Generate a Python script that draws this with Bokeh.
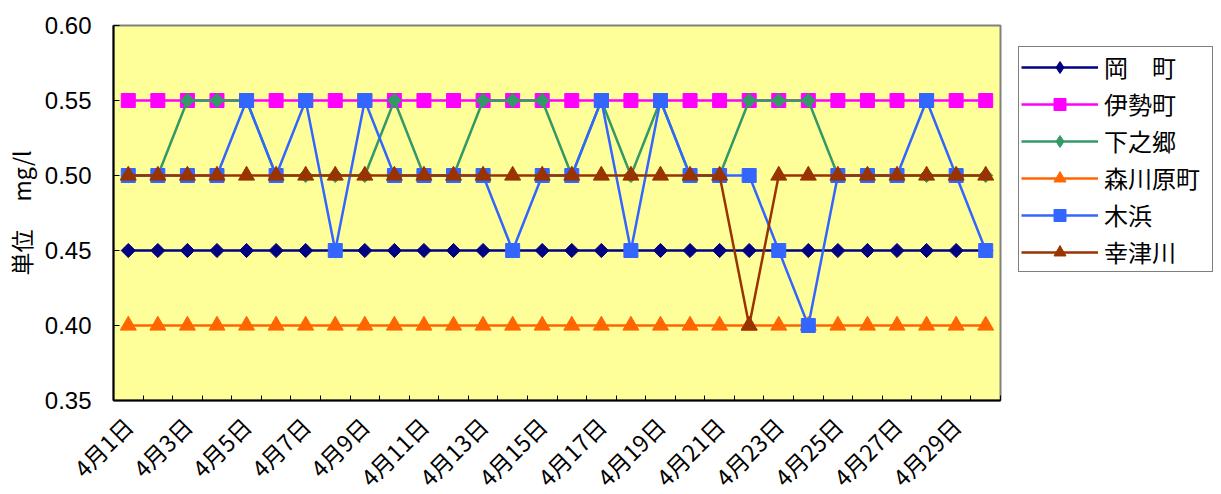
import math
from bokeh.plotting import figure
from bokeh.models import Legend, LegendItem, FixedTicker, Range1d
from bokeh.layouts import row
from bokeh.embed import file_html
from bokeh.resources import INLINE

days = list(range(1, 31))
x_labels = {d: f"4月{d}日" for d in days if d % 2 == 1}
y_ticks = [0.35, 0.40, 0.45, 0.50, 0.55, 0.60]
y_labels = {t: f"{t:.2f}" for t in y_ticks}

okamachi = [0.45, 0.45, 0.45, 0.45, 0.45, 0.45, 0.45, 0.45, 0.45, 0.45,
            0.45, 0.45, 0.45, 0.45, 0.45, 0.45, 0.45, 0.45, 0.45, 0.45,
            0.45, 0.45, 0.45, 0.45, 0.45, 0.45, 0.45, 0.45, 0.45, 0.45]
isecho = [0.55, 0.55, 0.55, 0.55, 0.55, 0.55, 0.55, 0.55, 0.55, 0.55,
          0.55, 0.55, 0.55, 0.55, 0.55, 0.55, 0.55, 0.55, 0.55, 0.55,
          0.55, 0.55, 0.55, 0.55, 0.55, 0.55, 0.55, 0.55, 0.55, 0.55]
shimonogo = [0.50, 0.50, 0.55, 0.55, 0.55, 0.50, 0.50, 0.50, 0.50, 0.55,
             0.50, 0.50, 0.55, 0.55, 0.55, 0.50, 0.55, 0.50, 0.55, 0.50,
             0.50, 0.55, 0.55, 0.55, 0.50, 0.50, 0.50, 0.50, 0.50, 0.50]
morikawara = [0.40, 0.40, 0.40, 0.40, 0.40, 0.40, 0.40, 0.40, 0.40, 0.40,
              0.40, 0.40, 0.40, 0.40, 0.40, 0.40, 0.40, 0.40, 0.40, 0.40,
              0.40, 0.40, 0.40, 0.40, 0.40, 0.40, 0.40, 0.40, 0.40, 0.40]
kihama = [0.50, 0.50, 0.50, 0.50, 0.55, 0.50, 0.55, 0.45, 0.55, 0.50,
          0.50, 0.50, 0.50, 0.45, 0.50, 0.50, 0.55, 0.45, 0.55, 0.50,
          0.50, 0.50, 0.45, 0.40, 0.50, 0.50, 0.50, 0.55, 0.50, 0.45]
kozukawa = [0.50, 0.50, 0.50, 0.50, 0.50, 0.50, 0.50, 0.50, 0.50, 0.50,
            0.50, 0.50, 0.50, 0.50, 0.50, 0.50, 0.50, 0.50, 0.50, 0.50,
            0.50, 0.40, 0.50, 0.50, 0.50, 0.50, 0.50, 0.50, 0.50, 0.50]

# name, values, colour, marker kind
series = [
    ("岡　町", okamachi, "#000080", "diamond"),
    ("伊勢町", isecho, "#FF00FF", "square"),
    ("下之郷", shimonogo, "#339966", "diamond"),
    ("森川原町", morikawara, "#FF6600", "triangle"),
    ("木浜", kihama, "#3366FF", "square"),
    ("幸津川", kozukawa, "#993300", "triangle"),
]

# marker kind -> (marker, size, angle) for the chart and for the legend
plot_marker = {"diamond": ("square", 10, math.pi / 4),
               "square": ("square", 14, 0.0),
               "triangle": ("triangle", 16, 0.0)}
legend_marker = {"diamond": ("diamond", 19, 0.0),
                 "square": ("square", 14, 0.0),
                 "triangle": ("triangle", 16, 0.0)}

FW, FH, TOP = 887, 375, 25
p = figure(frame_width=FW, frame_height=FH, output_backend="svg",
           toolbar_location=None,
           x_range=Range1d(0.5, 30.5), y_range=Range1d(0.35, 0.60),
           min_border_left=110, min_border_top=TOP, min_border_bottom=40,
           min_border_right=13)
p.background_fill_color = "#FFFF99"
p.border_fill_color = "white"
p.outline_line_color = "#808080"
p.outline_line_width = 2
p.xgrid.visible = False
p.ygrid.visible = False


def draw(fig, styles):
    rs = []
    for name, vals, color, kind in series:
        marker, size, ang = styles[kind]
        r1 = fig.line(days, vals, line_color=color, line_width=2.5)
        r2 = fig.scatter(days, vals, marker=marker, size=size, angle=ang,
                         fill_color=color, line_color=color, line_width=1)
        rs.append((name, r1, r2))
    return rs


draw(p, plot_marker)

xa = p.xaxis[0]
xa.ticker = FixedTicker(ticks=[d for d in days if d % 2 == 1],
                        minor_ticks=[d - 0.5 for d in days] + [30.5])
xa.major_label_overrides = x_labels
xa.major_tick_in = 0
xa.major_tick_out = 0
xa.minor_tick_in = 5
xa.minor_tick_out = 0
xa.minor_tick_line_color = "black"
xa.axis_line_color = "black"
xa.axis_line_width = 2
xa.major_label_orientation = math.pi / 4
xa.major_label_text_font = "Noto Sans CJK JP"
xa.major_label_text_font_size = "23px"
xa.major_label_text_color = "black"
xa.major_label_standoff = 21

ya = p.yaxis[0]
ya.ticker = FixedTicker(ticks=y_ticks)
ya.major_label_overrides = y_labels
ya.major_tick_in = 6
ya.major_tick_out = 0
ya.major_tick_line_color = "black"
ya.minor_tick_line_color = None
ya.axis_line_color = "black"
ya.axis_line_width = 2
ya.major_label_text_font = "Liberation Sans"
ya.major_label_text_font_size = "24px"
ya.major_label_text_color = "black"
ya.major_label_standoff = 22
ya.axis_label = "単位　 mg/l"
ya.axis_label_text_font = "Noto Sans CJK JP"
ya.axis_label_text_font_size = "23px"
ya.axis_label_text_font_style = "normal"
ya.axis_label_text_color = "black"
ya.axis_label_standoff = 4

# legend panel (separate figure to the right of the chart)
p2 = figure(frame_width=203, frame_height=FH, output_backend="svg",
            toolbar_location=None,
            x_range=Range1d(-20, -10), y_range=Range1d(-20, -10),
            min_border_left=0, min_border_right=0, min_border_bottom=0,
            min_border_top=TOP, x_axis_type=None, y_axis_type=None)
p2.outline_line_color = None
p2.background_fill_color = "white"
p2.border_fill_color = "white"
p2.xgrid.visible = False
p2.ygrid.visible = False
items = [LegendItem(label=n, renderers=[a, b])
         for n, a, b in draw(p2, legend_marker)]
leg_h = 225
legend = Legend(items=items, location=(5, FH - 22 - leg_h),
                margin=0, padding=2, spacing=2, label_height=30,
                glyph_height=30, glyph_width=77, label_standoff=6,
                label_width=106,
                label_text_font="Noto Sans CJK JP", label_text_font_size="24px",
                label_text_color="black",
                border_line_color="black", border_line_width=1,
                background_fill_color="white", background_fill_alpha=1)
p2.add_layout(legend, "center")

layout = row(p, p2)
open("out.html", "w").write(file_html(layout, INLINE))
